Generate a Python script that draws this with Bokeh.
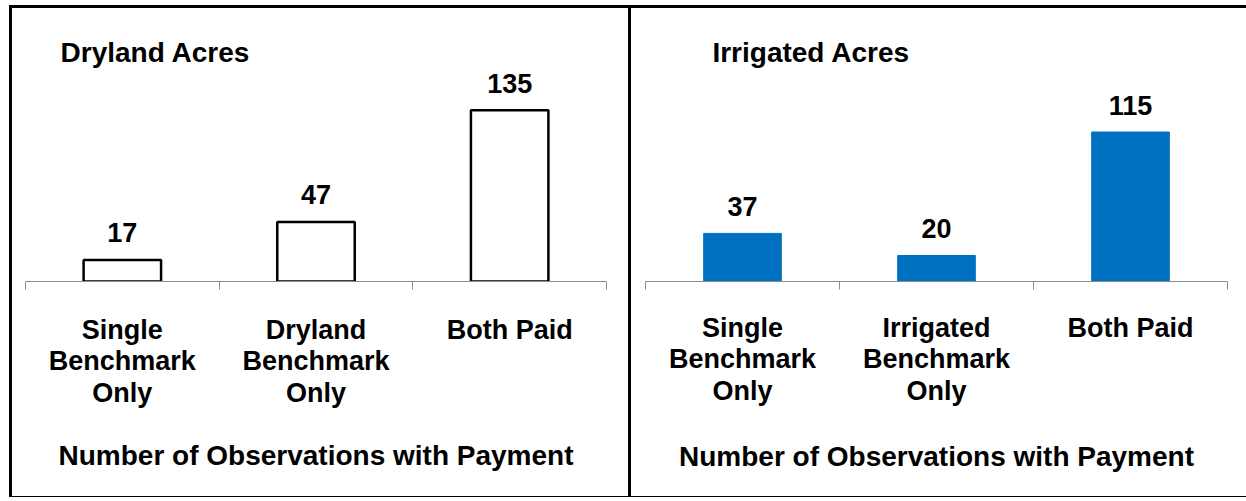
from bokeh.plotting import figure
from bokeh.layouts import row
from bokeh.models import Range1d, FixedTicker, Label, InlineStyleSheet
from bokeh.core.properties import value
from bokeh.embed import file_html
from bokeh.resources import INLINE

# ---- data ----
dry_categories = ["Single\nBenchmark\nOnly", "Dryland\nBenchmark\nOnly", "Both Paid"]
dry_counts = [17, 47, 135]
irr_categories = ["Single\nBenchmark\nOnly", "Irrigated\nBenchmark\nOnly", "Both Paid"]
irr_counts = [37, 20, 115]
panel_titles = ["Dryland Acres", "Irrigated Acres"]
x_title = "Number of Observations with Payment"

FONT = "Liberation Sans"
AXIS_GRAY = "#8c8c8c"


def make_panel(categories, counts, title, fill, line, line_w, width, height,
               mb_left, frame_w, frame_bottom_px, px_per_unit, title_x, title_y_px,
               label_standoff, title_standoff, css):
    n = len(categories)
    centers = [i + 1 for i in range(n)]
    bounds = [i + 0.5 for i in range(n + 1)]
    y_end = frame_bottom_px / px_per_unit
    p = figure(width=width, height=height, output_backend="svg", toolbar_location=None,
               x_range=Range1d(0.5, n + 0.5), y_range=Range1d(0, y_end),
               y_axis_location=None, min_border_left=mb_left,
               min_border_right=width - mb_left - frame_w,
               min_border_top=0, min_border_bottom=height - frame_bottom_px,
               outline_line_color=None, background_fill_color="white",
               border_fill_color="white",
               stylesheets=[InlineStyleSheet(css=css)])
    p.xgrid.visible = False
    p.ygrid.visible = False

    p.vbar(x=centers, top=counts, bottom=0, width=0.4, fill_color=fill,
           line_color=line, line_width=line_w)
    p.text(x=centers, y=counts, text=[str(c) for c in counts], text_align="center",
           text_baseline="middle", y_offset=-27, text_font=value(FONT),
           text_font_style="bold", text_font_size="27px", text_color="black")

    p.add_layout(Label(x=title_x, y=(frame_bottom_px - title_y_px) / px_per_unit,
                       text=title, text_font=FONT,
                       text_font_style="bold", text_font_size="28px",
                       text_baseline="middle", text_align="left", text_color="black"))

    ax = p.xaxis[0]
    ax.ticker = FixedTicker(ticks=centers, minor_ticks=bounds)
    ax.major_label_overrides = {c: cat for c, cat in zip(centers, categories)}
    ax.major_tick_line_color = None
    ax.major_tick_out = 0
    ax.major_tick_in = 0
    ax.minor_tick_line_color = AXIS_GRAY
    ax.minor_tick_out = 8
    ax.minor_tick_in = 0
    ax.axis_line_color = AXIS_GRAY
    ax.axis_line_width = 1
    ax.major_label_text_font = FONT
    ax.major_label_text_font_style = "bold"
    ax.major_label_text_font_size = "27px"
    ax.major_label_text_color = "black"
    ax.major_label_text_line_height = 1.05
    ax.major_label_standoff = label_standoff
    ax.axis_label = x_title
    ax.axis_label_text_font = FONT
    ax.axis_label_text_font_style = "bold"
    ax.axis_label_text_font_size = "28px"
    ax.axis_label_text_color = "black"
    ax.axis_label_standoff = title_standoff
    return p


H = 492
left_css = (":host { border-top: 3px solid black; "
            "border-left: 3px solid black; border-right: 3px solid black; "
            "border-bottom: 1px solid black; }")
right_css = (":host { border-top: 3px solid black; "
             "border-bottom: 1px solid black; }")

p1 = make_panel(dry_categories, dry_counts, panel_titles[0], "white", "black", 2.5,
                622, H, 13, 581, 275, 1.277, 0.681, 44, 25, 29, left_css)
p2 = make_panel(irr_categories, irr_counts, panel_titles[1], "#0070C0", "#0070C0", 1,
                615, H, 14, 582, 273, 1.30, 0.845, 44, 23, 32, right_css)

layout = row(p1, p2, spacing=0, margin=(5, 0, 0, 9))
open("out.html", "w").write(file_html(layout, INLINE))
